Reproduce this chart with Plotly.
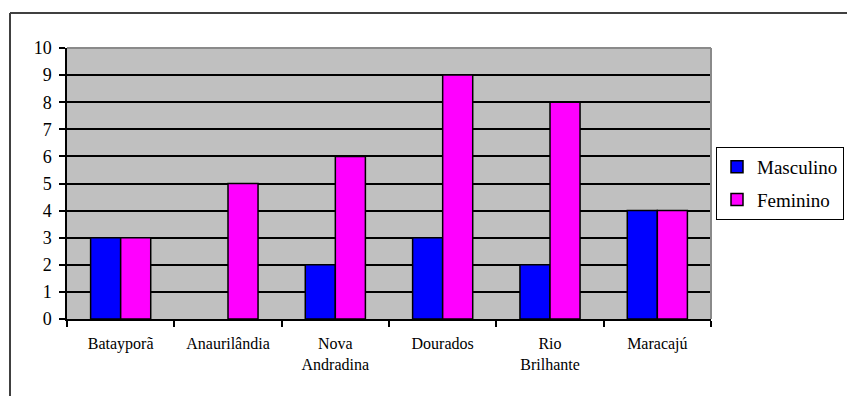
import plotly.graph_objects as go

categories = ["Batayporã", "Anaurilândia", "Nova<br>Andradina", "Dourados", "Rio<br>Brilhante", "Maracajú"]
masculino = [3, None, 2, 3, 2, 4]
feminino = [3, 5, 6, 9, 8, 4]
y_ticks = list(range(0, 11))

W, H = 847, 396
L, R, T, B = 67, 136, 48, 77
pw, ph = W - L - R, H - T - B
SERIF = "Liberation Serif"

def px_x(x):
    return (x - L) / pw

def px_y(y):
    return 1 - (y - T) / ph

fig = go.Figure()
fig.add_trace(go.Bar(name="Masculino", x=categories, y=masculino, legendgroup="m",
                     marker=dict(color="#0000ff", line=dict(color="black", width=1.5))))
fig.add_trace(go.Bar(name="Feminino", x=categories, y=feminino, legendgroup="f",
                     marker=dict(color="#ff00ff", line=dict(color="black", width=1.5))))

fig.update_layout(
    width=W, height=H,
    margin=dict(l=L, r=R, t=T, b=B, autoexpand=False),
    paper_bgcolor="white",
    plot_bgcolor="#c0c0c0",
    barmode="group",
    bargap=0.44,
    bargroupgap=0,
    font=dict(family=SERIF, size=15, color="black"),
    showlegend=True,
    legend=dict(
        x=px_x(716), y=px_y(147), xanchor="left", yanchor="top",
        bordercolor="black", borderwidth=1, bgcolor="white",
        font=dict(family=SERIF, size=19, color="black"),
        tracegroupgap=5,
        itemwidth=30,
    ),
    xaxis=dict(
        type="category",
        tickson="boundaries",
        ticks="outside", ticklen=6, tickcolor="black", tickwidth=1.5,
        showline=True, linecolor="black", linewidth=1.5,
        showgrid=False,
        tickfont=dict(family=SERIF, size=16, color="black"),
        ticklabelstandoff=9,
    ),
    yaxis=dict(
        range=[0, 10],
        tickvals=y_ticks,
        ticks="outside", ticklen=6, tickcolor="black", tickwidth=1.5,
        showline=True, linecolor="black", linewidth=1.5,
        showgrid=True, gridcolor="black", gridwidth=1.5,
        zeroline=False,
        tickfont=dict(family=SERIF, size=18, color="black"),
        ticklabelstandoff=4,
    ),
    shapes=[
        dict(type="line", xref="paper", yref="paper", x0=0, x1=1, y0=1, y1=1,
             line=dict(color="#8a8a8a", width=2), layer="above"),
        dict(type="line", xref="paper", yref="paper", x0=1, x1=1, y0=0, y1=1,
             line=dict(color="#8a8a8a", width=2), layer="above"),
        dict(type="line", xref="paper", yref="paper", x0=px_x(10), x1=px_x(W + 5),
             y0=px_y(13), y1=px_y(13), line=dict(color="#404040", width=2)),
        dict(type="line", xref="paper", yref="paper", x0=px_x(10), x1=px_x(10),
             y0=px_y(13), y1=px_y(H + 5), line=dict(color="#404040", width=2)),
    ],
)

fig.write_html("out.html")
